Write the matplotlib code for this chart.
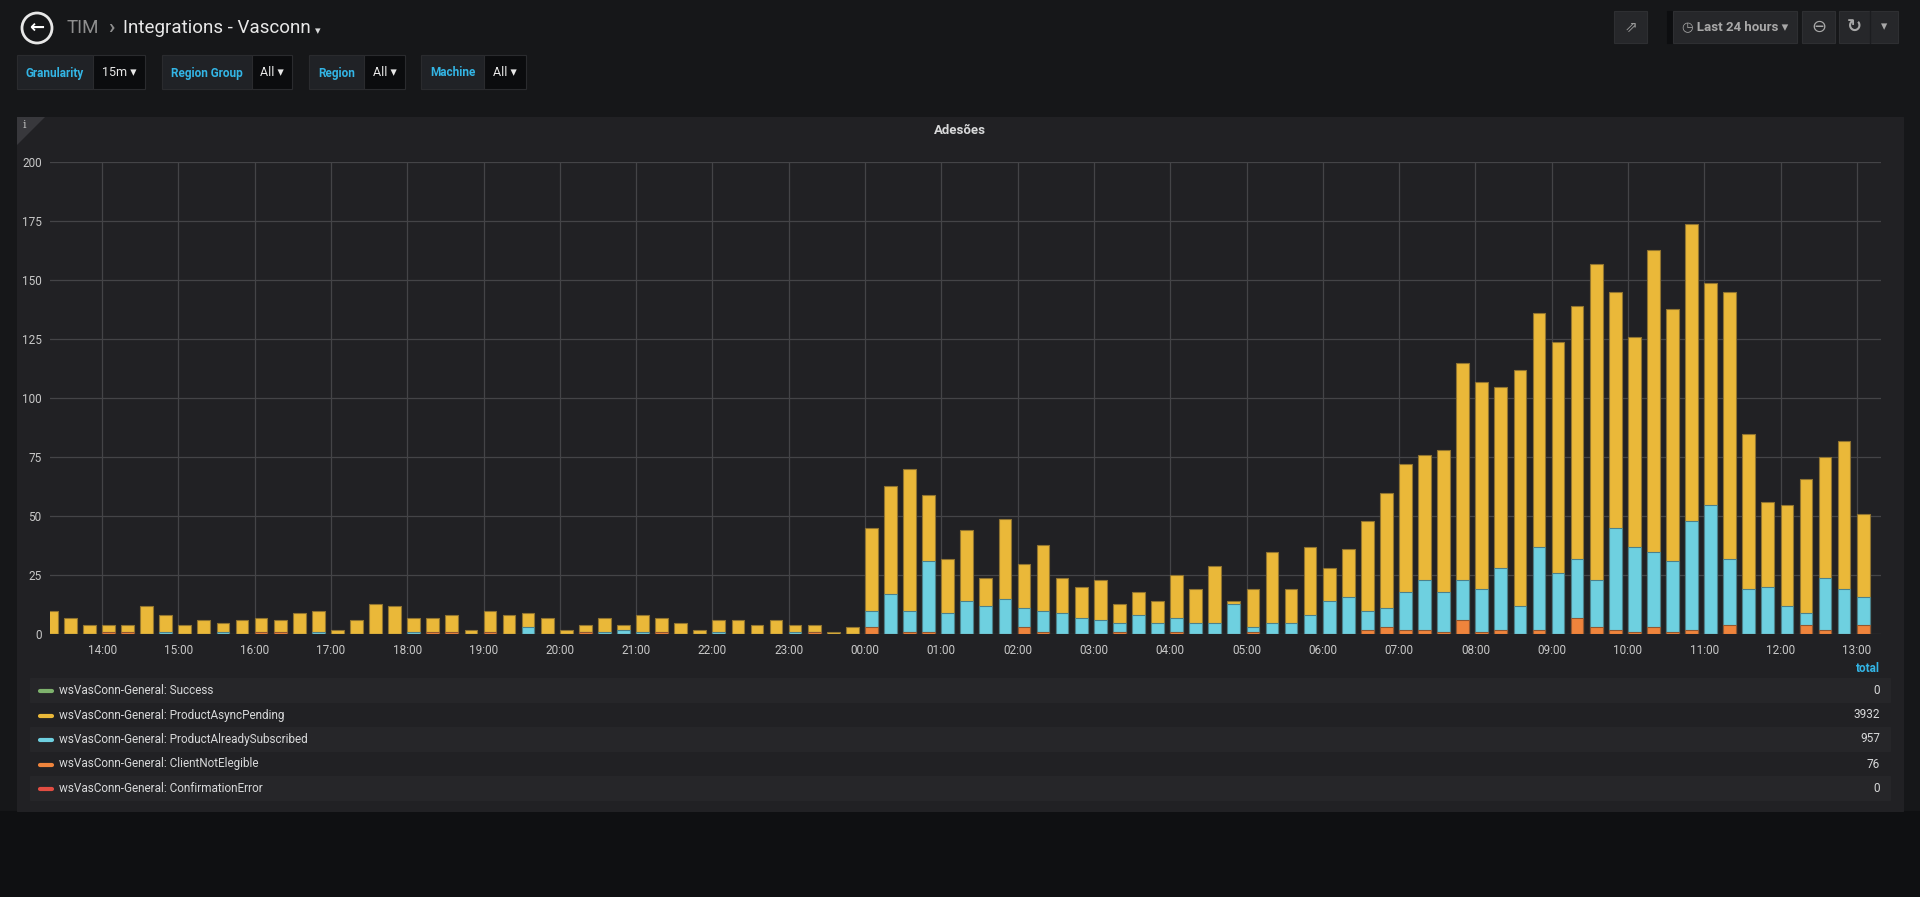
import numpy as np
import pandas as pd
import matplotlib
matplotlib.use("Agg")
from matplotlib import pyplot as plt
from matplotlib import dates as mdates
from matplotlib.patches import Rectangle, Circle, Polygon

plt.rcParams['font.family'] = ['Roboto', 'DejaVu Sans']

# 15m buckets, "Last 24 hours" window
start = "2019-01-01 13:15"
window = ("2019-01-01 13:19", "2019-01-02 13:19")

# series values per bucket (bars are overlaid, not stacked)
pending = [10, 7, 4, 4, 4, 12, 8, 4, 6, 5, 6, 7, 6, 9, 10, 2, 6, 13, 12, 7,
           7, 8, 2, 10, 8, 9, 7, 2, 4, 7, 4, 8, 7, 5, 2, 6, 6, 4, 6, 4,
           4, 1, 3, 45, 63, 70, 59, 32, 44, 24, 49, 30, 38, 24, 20, 23, 13, 18, 14, 25,
           19, 29, 14, 19, 35, 19, 37, 28, 36, 48, 60, 72, 76, 78, 115, 107, 105, 112, 136, 124,
           139, 157, 145, 126, 163, 138, 174, 149, 145, 85, 56, 55, 66, 75, 82, 51]
subscribed = [0, 0, 0, 0, 0, 0, 1, 0, 0, 1, 0, 0, 0, 0, 1, 0, 0, 0, 0, 1,
              0, 0, 0, 0, 0, 3, 0, 0, 1, 1, 2, 1, 0, 0, 0, 1, 0, 0, 0, 1,
              1, 0, 0, 10, 17, 10, 31, 9, 14, 12, 15, 11, 10, 9, 7, 6, 5, 8, 5, 7,
              5, 5, 13, 3, 5, 5, 8, 14, 16, 10, 11, 18, 23, 18, 23, 19, 28, 12, 37, 26,
              32, 23, 45, 37, 35, 31, 48, 55, 32, 19, 20, 12, 9, 24, 19, 16]
not_elegible = [0, 0, 0, 1, 1, 0, 0, 0, 0, 0, 0, 1, 1, 0, 0, 0, 0, 0, 0, 0,
                1, 1, 0, 1, 0, 0, 0, 0, 1, 0, 0, 0, 1, 0, 0, 0, 0, 0, 0, 0,
                1, 0, 0, 3, 0, 1, 1, 0, 0, 0, 0, 3, 1, 0, 0, 0, 1, 0, 0, 1,
                0, 0, 0, 1, 0, 0, 0, 0, 0, 2, 3, 2, 2, 1, 6, 1, 2, 0, 2, 0,
                7, 3, 2, 1, 3, 1, 2, 0, 4, 0, 0, 0, 4, 2, 0, 4]
success = [0] * 96
conf_error = [0] * 96

series_names = ["wsVasConn-General: Success",
                "wsVasConn-General: ProductAsyncPending",
                "wsVasConn-General: ProductAlreadySubscribed",
                "wsVasConn-General: ClientNotElegible",
                "wsVasConn-General: ConfirmationError"]
series_values = [success, pending, subscribed, not_elegible, conf_error]
series_colors = ["#7EB26D", "#EAB839", "#6ED0E0", "#EF843C", "#E24D42"]

y_ticks = [0, 25, 50, 75, 100, 125, 150, 175, 200]

W, H = 1920, 897
BG = "#161719"
PANEL = "#212124"

fig = plt.figure(figsize=(W / 100, H / 100), dpi=100, facecolor=BG)

# chrome layer in pixel coordinates
bg = fig.add_axes([0, 0, 1, 1], zorder=0)
bg.set_xlim(0, W)
bg.set_ylim(H, 0)
bg.axis('off')


def box(x0, y0, x1, y1, color, edge=None):
    bg.add_patch(Rectangle((x0, y0), x1 - x0, y1 - y0, facecolor=color,
                           edgecolor=edge if edge else color, lw=0.8))


# darker strip under the panel
box(0, 811, W, H, "#0f1012")

# header
bg.add_patch(Circle((37, 28), 15, facecolor='none', edgecolor='#e8e8e8', lw=2))
bg.text(37, 28, "←", color='#ffffff', fontsize=13, fontweight='bold', ha='center', va='center',
        family=['DejaVu Sans'])
bg.text(67, 28, "TIM", color='#8e8e8e', fontsize=13.5, va='center')
bg.text(108, 27, "›", color='#8e8e8e', fontsize=15, va='center', fontweight='bold')
bg.text(123, 28, "Integrations - Vasconn", color='#e8e8e8', fontsize=13.5, va='center')
bg.text(318, 31, "▾", color='#d8d9da', fontsize=8, ha='center', va='center', family=['DejaVu Sans'])

# template variables
filters = [("Granularity", "15m", 16.5, 92.5, 145),
           ("Region Group", "All", 161.5, 252, 292),
           ("Region", "All", 308.5, 364, 405),
           ("Machine", "All", 421, 484, 526)]
for label, value, x0, x1, x2 in filters:
    box(x0, 55, x1, 89, "#202226", "#2a2b2e")
    box(x1, 55, x2, 89, "#0b0c0e", "#2a2b2e")
    bg.text((x0 + x1) / 2, 73, label, color='#33b5e5', fontsize=8.5, fontweight='bold',
            ha='center', va='center')
    bg.text((x1 + x2) / 2, 73, value + " ▾", color='#e8e8e8', fontsize=9,
            ha='center', va='center', family=['Roboto', 'DejaVu Sans'])

# top-right buttons
btn = "#26272a"
box(1614, 11, 1647, 43, btn, "#2e2f32")
bg.text(1630.5, 27, "⇗", color='#9a9a9a', fontsize=11, ha='center', va='center', family=['DejaVu Sans'])
box(1667, 11, 1672, 43, "#0d0e10")
box(1673, 11, 1797, 43, btn, "#2e2f32")
bg.text(1735, 27, "◷ Last 24 hours ▾", color='#a8a8a8', fontsize=9.5, fontweight='bold',
        ha='center', va='center', family=['Roboto', 'DejaVu Sans'])
box(1802, 11, 1835, 43, btn, "#2e2f32")
bg.text(1818.5, 27, "⊖", color='#a8a8a8', fontsize=13, ha='center', va='center', family=['DejaVu Sans'])
box(1839, 11, 1898, 43, btn, "#2e2f32")
bg.plot([1870, 1870], [11, 43], color='#1c1d20', lw=1)
bg.text(1854.5, 27, "↻", color='#a8a8a8', fontsize=13, fontweight='bold', ha='center', va='center',
        family=['DejaVu Sans'])
bg.text(1884, 27, "▾", color='#a8a8a8', fontsize=9, ha='center', va='center', family=['DejaVu Sans'])

# panel
box(17, 117, 1903, 811, PANEL)
bg.add_patch(Polygon([(17, 117), (45, 117), (17, 145)], closed=True, facecolor='#38383c', lw=0))
bg.text(24, 125, "i", color='#c0c0c0', fontsize=8, ha='center', va='center', family=['DejaVu Serif'])
bg.text(960, 131, "Adesões", color='#d8d9da', fontsize=9.5, fontweight='bold', ha='center', va='center')

# legend table
row_y = [690, 715, 739, 764, 788]
bg.text(1880, 669, "total", color='#33b5e5', fontsize=8.5, fontweight='bold', ha='right', va='center')
for i, (name, vals, col) in enumerate(zip(series_names, series_values, series_colors)):
    y = row_y[i]
    if i % 2 == 0:
        box(30, y - 12, 1890, y + 12, "#262629")
    bg.plot([40, 52], [y + 1, y + 1], color=col, lw=3, solid_capstyle='round')
    bg.text(59, y, name, color='#d8d9da', fontsize=8.5, va='center')
    bg.text(1880, y, str(int(np.sum(vals))), color='#d8d9da', fontsize=8.5, ha='right', va='center')

# chart
x0, x1, yt, yb = 50, 1881, 162.3, 634.3
ax = fig.add_axes([x0 / W, 1 - yb / H, (x1 - x0) / W, (yb - yt) / H], zorder=2)
ax.set_facecolor('none')

times = pd.date_range(start, periods=len(pending), freq="15min")
bar_w = 10 / 1440.0


def darker(hexcol, f=0.55):
    c = np.array(matplotlib.colors.to_rgb(hexcol))
    b = np.array(matplotlib.colors.to_rgb(PANEL))
    return tuple(c * f + b * (1 - f))


for vals, col in zip(series_values, series_colors):
    v = np.array(vals)
    if v.sum() == 0:
        continue
    ax.bar(times, v, width=bar_w, align='edge', color=col, edgecolor=darker(col), lw=0.8, zorder=3)

ax.set_xlim(pd.Timestamp(window[0]), pd.Timestamp(window[1]))
ax.set_ylim(0, 200)
ax.set_yticks(y_ticks)
ax.xaxis.set_major_locator(mdates.HourLocator())
ax.xaxis.set_major_formatter(mdates.DateFormatter('%H:%M'))
ax.grid(True, color='#444447', lw=0.9, zorder=0)
for s in ax.spines.values():
    s.set_visible(False)
ax.tick_params(colors='#c8c8c8', labelsize=8.5, length=0)
ax.tick_params(axis='y', pad=6)
ax.tick_params(axis='x', pad=7)

fig.savefig("out.png", dpi=100, facecolor=BG)
